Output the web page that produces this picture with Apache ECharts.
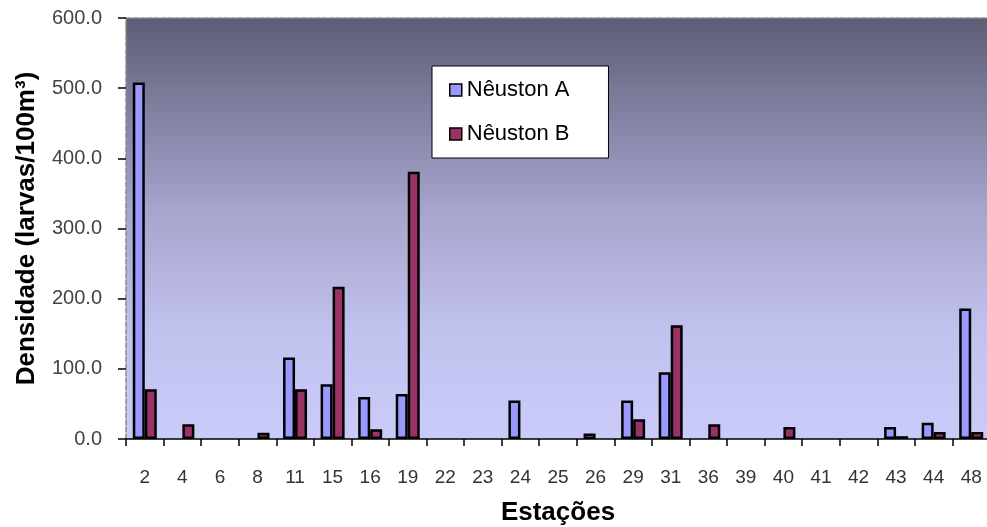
<!DOCTYPE html>
<html>
<head>
<meta charset="utf-8">
<script src="https://cdn.jsdelivr.net/npm/echarts@6/dist/echarts.min.js"></script>
<style>
  html, body { margin: 0; padding: 0; background: #ffffff; }
  #chart { width: 987px; height: 527px; }
</style>
</head>
<body>
<div id="chart"></div>
<script>
// Stations sampled
const estacoes = ['2', '4', '6', '8', '11', '15', '16', '19', '22', '23', '24', '25',
                  '26', '29', '31', '36', '39', '40', '41', '42', '43', '44', '48'];

// Larval density (larvas/100m³) per station
const neustonA = [508, 0, 0, 0, 116, 78, 60, 64, 0, 0, 55, 0,
                  8, 55, 95, 0, 0, 0, 0, 0, 17, 23, 186];
const neustonB = [71, 21, 0, 9, 71, 217, 14, 381, 0, 0, 0, 0,
                  0, 28, 162, 21, 0, 17, 0, 0, 4, 10, 10];

// Value axis range
const yMin = 0;
const yMax = 600;
const yStep = 100;

// Stations with no larvae get no bar at all
const asBars = (values) => values.map((v) => (v === 0 ? '-' : v));

const chart = echarts.init(document.getElementById('chart'), null, { renderer: 'canvas' });

const labelFont = 'Liberation Sans, Arial, sans-serif';

chart.setOption({
  animation: false,
  backgroundColor: '#ffffff',
  grid: {
    left: 126,
    top: 18,
    right: -3,
    bottom: 88,
    containLabel: false,
    outerBoundsMode: 'none',
    show: true,
    borderWidth: 0,
    backgroundColor: {
      type: 'linear', x: 0, y: 0, x2: 0, y2: 1,
      colorStops: [
        { offset: 0, color: '#5d5d77' },
        { offset: 0.45, color: '#a4a4cc' },
        { offset: 0.75, color: '#c2c2ef' },
        { offset: 1, color: '#cbcbfa' }
      ]
    }
  },
  legend: {
    orient: 'vertical',
    left: 432,
    top: 66,
    backgroundColor: '#ffffff',
    borderColor: '#000000',
    borderWidth: 1,
    borderRadius: 0,
    padding: [13, 39, 13, 17],
    itemWidth: 12,
    itemHeight: 12,
    itemGap: 22,
    itemTextGap: 8,
    icon: 'rect',
    itemStyle: { borderColor: '#000000', borderWidth: 1.5 },
    textStyle: { fontFamily: labelFont, fontSize: 22, color: '#000000' },
    data: ['Nêuston A', 'Nêuston B']
  },
  xAxis: [
    {
      type: 'category',
      data: estacoes,
      position: 'bottom',
      name: 'Estações',
      nameLocation: 'middle',
      nameGap: 61,
      nameTextStyle: { fontFamily: labelFont, fontSize: 26, fontWeight: 'bold', color: '#000000' },
      axisLine: { show: true, lineStyle: { color: '#000000', width: 1.5 } },
      axisTick: { show: true, inside: false, length: 7, alignWithLabel: false, lineStyle: { color: '#000000', width: 1.5 } },
      axisLabel: { fontFamily: labelFont, fontSize: 19, color: '#333333', margin: 29, interval: 0 },
      splitLine: { show: false }
    },
    {
      type: 'category',
      data: estacoes,
      position: 'top',
      axisLine: { show: true, lineStyle: { color: '#8c8c8c', width: 1.5, type: [5, 2] } },
      axisTick: { show: false },
      axisLabel: { show: false },
      splitLine: { show: false }
    }
  ],
  yAxis: {
    type: 'value',
    min: yMin,
    max: yMax,
    interval: yStep,
    name: 'Densidade (larvas/100m³)',
    nameLocation: 'middle',
    nameGap: 86,
    nameTextStyle: { fontFamily: labelFont, fontSize: 26, fontWeight: 'bold', color: '#000000' },
    axisLine: { show: true, lineStyle: { color: '#8c8c8c', width: 1.5, type: [5, 2] } },
    axisTick: { show: true, inside: false, length: 8, lineStyle: { color: '#000000', width: 1.5 } },
    axisLabel: {
      fontFamily: labelFont, fontSize: 20, color: '#444444', margin: 24,
      formatter: (v) => v.toFixed(1)
    },
    splitLine: { show: false }
  },
  series: [
    {
      name: 'Nêuston A',
      type: 'bar',
      xAxisIndex: 0,
      data: asBars(neustonA),
      barWidth: 12,
      barGap: '0%',
      itemStyle: { color: '#9999ff', borderColor: '#000000', borderWidth: 2.5 }
    },
    {
      name: 'Nêuston B',
      type: 'bar',
      xAxisIndex: 0,
      data: asBars(neustonB),
      barWidth: 12,
      barGap: '0%',
      itemStyle: { color: '#993366', borderColor: '#000000', borderWidth: 2.5 }
    }
  ]
});
</script>
</body>
</html>
